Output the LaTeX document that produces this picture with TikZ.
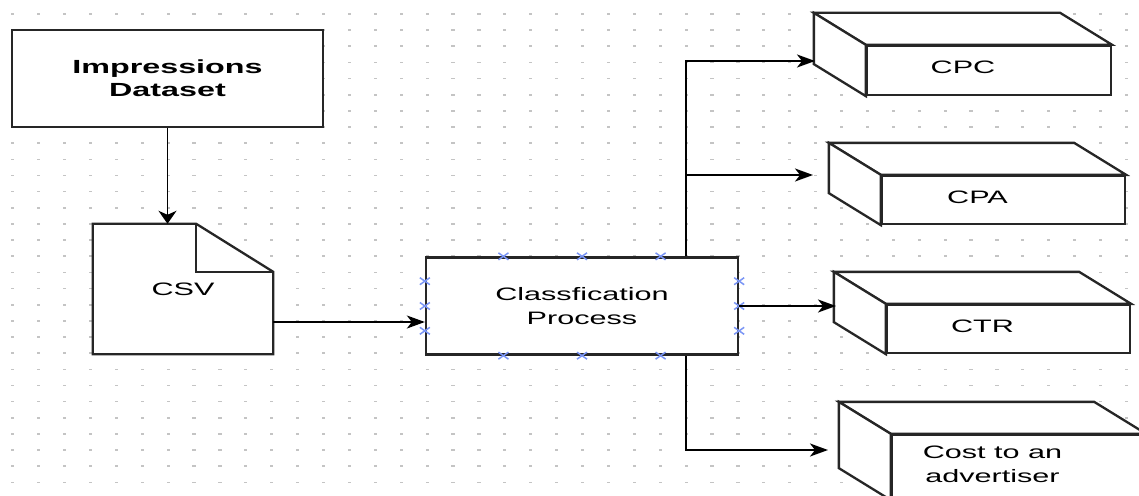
\documentclass[tikz,border=0pt]{standalone}
\usepackage{fontspec}
\setmainfont{Liberation Sans}[FakeStretch=1.7]
\usetikzlibrary{arrows.meta,calc}
\definecolor{dotc}{HTML}{C4C4C4}
\definecolor{markc}{HTML}{7A95F5}
\tikzset{
  box/.style={draw=black!85, line width=2.3pt, fill=white},
  flow/.style={line width=1.9pt, -{Stealth[length=18pt,width=13pt,inset=5pt]}},
  down/.style={line width=1.9pt, -{Stealth[length=13pt,width=18pt,inset=4pt]}},
  xmk/.style={markc, line width=1.5pt},
  lbl/.style={font=\fontsize{18}{24}\selectfont, align=center},
}
\begin{document}
\begin{tikzpicture}[x=1pt, y=-1pt]
\useasboundingbox (0,0) rectangle (1139,495);
\clip (0,0) rectangle (1139,495);
% dotted grid
\foreach \i in {0,...,43}
  \foreach \j in {0,...,30}
    \fill[dotc] ({12.7+25.9*\i-1.6},{14+16.15*\j-0.8}) rectangle ++(3.2,1.6);

% data source
\node[box, minimum width=311, minimum height=97, align=center,
      font=\bfseries\fontsize{19}{23}\selectfont] (impr) at (167.5,78.5) {Impressions\\Dataset};

% csv document
\node[minimum width=180, minimum height=130] (csv) at (183,289) {};
\filldraw[box] (csv.north west) -- ([xshift=-77pt]csv.north east)
  -- ([yshift=-48pt]csv.north east) -- (csv.south east) -- (csv.south west) -- cycle;
\draw[box, fill=none] ([xshift=-77pt]csv.north east) |- ([yshift=-48pt]csv.north east);
\node[lbl] (csv-t) at (csv.center) {CSV};

% process
\node[box, lbl, minimum width=312, minimum height=97] (proc) at (582,306) {Classfication\\Process};
\foreach \f in {0.25,0.5,0.75}
  \foreach \a/\b in {north west/north east, south west/south east, north west/south west, north east/south east}
    \draw[xmk] ($(proc.\a)!\f!(proc.\b)$) ++(-5,-3.5) -- ++(10,7) ++(-10,0) -- ++(10,-7);

% outputs
\foreach \n/\cx/\cy/\w/\h/\t in {cpc/989/70.5/244/49/CPC, cpa/1003.5/200/243/48/CPA,
    ctr/1008.5/329/243/48/CTR, cost/1018.5/467/253/64/{Cost to an\\advertiser}} {
  \node[box, minimum width=\w, minimum height=\h] (\n) at (\cx,\cy) {};
  \filldraw[box] (\n.north west) -- ++(-52,-32) -- ([shift={(-52,-32)}]\n.north east) -- (\n.north east) -- cycle;
  \filldraw[box] (\n.north west) -- ++(-52,-32) -- ([shift={(-52,-32)}]\n.south west) -- (\n.south west) -- cycle;
  \node[lbl] (\n-t) at ([xshift=-26pt,yshift=3pt]\n.center) {\t};
}
\coordinate (cpc-in) at (815,61);
\coordinate (cpa-in) at (813,175);
\coordinate (ctr-in) at (836,306);
\coordinate (cost-in) at (828,450);
\coordinate (tap) at ([xshift=104pt]proc.north);
\coordinate (tapb) at ([xshift=104pt]proc.south);

% connectors
\draw[down] (impr.south) -- (impr.south |- csv.north);
\draw[flow] ([yshift=-33pt]csv.east) -- ([yshift=-33pt]csv.east -| proc.west);
\draw[flow] (tap) |- (cpc-in);
\draw[flow] (tap |- cpa-in) -- (cpa-in);
\draw[flow] (proc.east) -- (proc.east -| ctr-in);
\draw[flow] (tapb) |- (cost-in);
\end{tikzpicture}
\end{document}
